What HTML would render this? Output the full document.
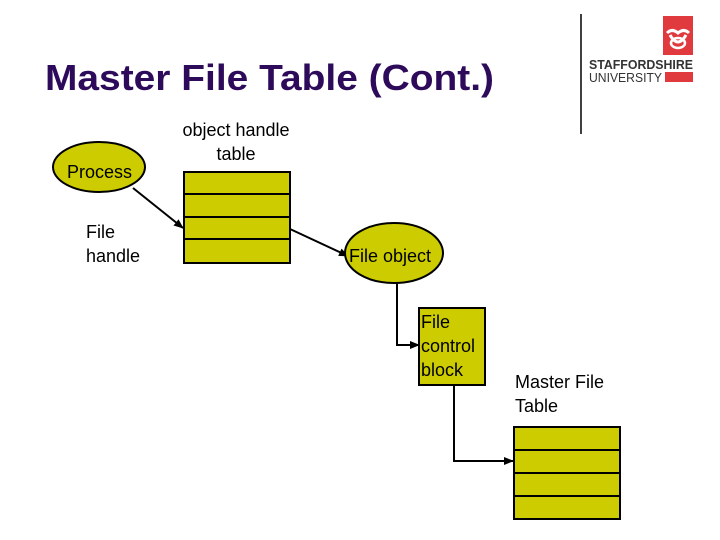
<!DOCTYPE html>
<html><head><meta charset="utf-8"><style>
html,body{margin:0;padding:0;background:#fff;width:720px;height:540px;overflow:hidden}
svg text{font-family:"Liberation Sans",Arial,sans-serif}
</style></head><body>
<svg width="720" height="540" viewBox="0 0 720 540" xmlns="http://www.w3.org/2000/svg">
<defs><marker id="a" markerWidth="10" markerHeight="10" refX="9" refY="5" orient="auto" markerUnits="userSpaceOnUse"><path d="M0,1 L10,5 L0,9 z" fill="#000"/></marker></defs>
<text x="45" y="90" font-size="36" font-weight="bold" fill="#2e0a5a" textLength="449" lengthAdjust="spacingAndGlyphs">Master File Table (Cont.)</text>
<line x1="581" y1="14" x2="581" y2="134" stroke="#000" stroke-width="1.5"/>
<rect x="663" y="16" width="30" height="39" fill="#e03a3e"/>
<path d="M667,33 q5,-5 11,0 q6,-5 11,0 M670,35 q8,14 16,0" stroke="#fff" stroke-width="3" fill="none"/>
<ellipse cx="678" cy="43" rx="7" ry="5" stroke="#fff" stroke-width="2.5" fill="none"/>
<text x="589" y="69" font-size="12.5" font-weight="bold" fill="#333" textLength="104" lengthAdjust="spacingAndGlyphs">STAFFORDSHIRE</text>
<text x="589" y="82" font-size="12.5" fill="#333" textLength="73" lengthAdjust="spacingAndGlyphs">UNIVERSITY</text>
<rect x="665" y="72" width="28" height="10" fill="#e03a3e"/>
<ellipse cx="99" cy="167" rx="46" ry="25" fill="#cccc00" stroke="#000" stroke-width="2"/>
<text x="67" y="178" font-size="18">Process</text>
<text x="236" y="136" font-size="18" text-anchor="middle">object handle</text>
<text x="236" y="160" font-size="18" text-anchor="middle">table</text>
<text x="86" y="238" font-size="18">File</text>
<text x="86" y="262" font-size="18">handle</text>
<g fill="#cccc00" stroke="#000" stroke-width="2">
<rect x="184" y="172" width="106" height="22"/><rect x="184" y="194" width="106" height="23"/><rect x="184" y="217" width="106" height="22"/><rect x="184" y="239" width="106" height="24"/>
</g>
<line x1="133" y1="188" x2="183" y2="228" stroke="#000" stroke-width="2" marker-end="url(#a)"/>
<line x1="290" y1="229" x2="348" y2="256" stroke="#000" stroke-width="2" marker-end="url(#a)"/>
<ellipse cx="394" cy="253" rx="49" ry="30" fill="#cccc00" stroke="#000" stroke-width="2"/>
<text x="349" y="262" font-size="18">File object</text>
<polyline points="397,283 397,345 419,345" fill="none" stroke="#000" stroke-width="2" marker-end="url(#a)"/>
<rect x="419" y="308" width="66" height="77" fill="#cccc00" stroke="#000" stroke-width="2"/>
<text x="421" y="328" font-size="18">File</text>
<text x="421" y="352" font-size="18">control</text>
<text x="421" y="376" font-size="18">block</text>
<text x="515" y="388" font-size="18">Master File</text>
<text x="515" y="412" font-size="18">Table</text>
<polyline points="454,385 454,461 513,461" fill="none" stroke="#000" stroke-width="2" marker-end="url(#a)"/>
<g fill="#cccc00" stroke="#000" stroke-width="2">
<rect x="514" y="427" width="106" height="23"/><rect x="514" y="450" width="106" height="23"/><rect x="514" y="473" width="106" height="23"/><rect x="514" y="496" width="106" height="23"/>
</g>
</svg>
</body></html>
